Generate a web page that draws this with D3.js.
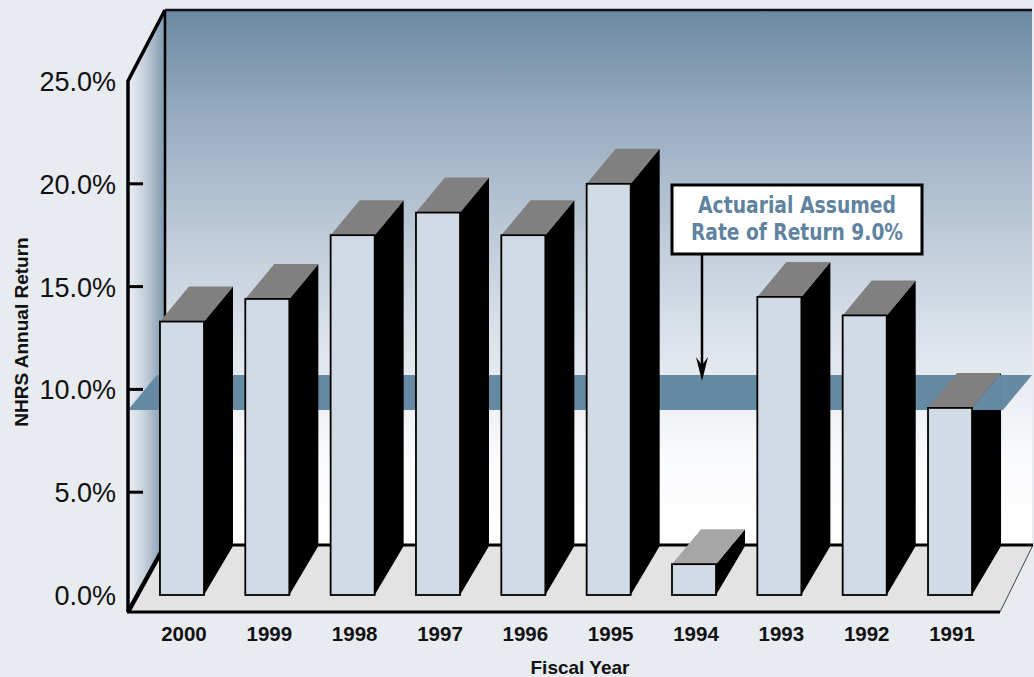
<!DOCTYPE html>
<html>
<head>
<meta charset="utf-8">
<script src="https://cdn.jsdelivr.net/npm/d3@7/dist/d3.min.js"></script>
<style>
  html, body { margin: 0; padding: 0; background: #e8ebf0; }
  svg { display: block; }
  text { font-family: "Liberation Sans", Arial, Helvetica, sans-serif; }
</style>
</head>
<body>
<div id="chart"></div>
<script>
// ---- data ----
const years = ["2000", "1999", "1998", "1997", "1996", "1995", "1994", "1993", "1992", "1991"];
const returns = [13.3, 14.4, 17.5, 18.6, 17.5, 20.0, 1.5, 14.5, 13.6, 9.1];
const yTicks = [0, 5, 10, 15, 20, 25];
const assumedRate = 9.0;
const calloutLines = ["Actuarial Assumed", "Rate of Return 9.0%"];
const xTitle = "Fiscal Year";
const yTitle = "NHRS Annual Return";

// ---- layout ----
const W = 1034, H = 677;
const wallLeft = 128, wallBack = 165, wallTop = 10, wallRight = 1032;
const floorFront = 612, floorBack = 545, floorFrontRight = 1000;
const dx = 29, dyTop = -35, dyBot = -49;

const svg = d3.select("#chart").append("svg").attr("width", W).attr("height", H);
svg.append("rect").attr("width", W).attr("height", H).attr("fill", "#e8ebf0");

const y = d3.scaleLinear().domain([0, 25]).range([595, 81]);
const x = d3.scaleBand().domain(years).range([139.3, 992.7]).paddingInner(0.484).paddingOuter(0.242);
const bw = x.bandwidth();

const defs = svg.append("defs");
const bg = defs.append("linearGradient").attr("id", "backGrad")
  .attr("gradientUnits", "userSpaceOnUse").attr("x1", 0).attr("y1", wallTop).attr("x2", 0).attr("y2", floorBack);
[[0, "#6b89a1"], [0.2, "#97acc1"], [0.45, "#c3cfdb"], [0.68, "#e5eaf0"], [0.84, "#fafbfd"], [1, "#ffffff"]]
  .forEach(([o, c]) => bg.append("stop").attr("offset", o).attr("stop-color", c));
const lg = defs.append("linearGradient").attr("id", "leftGrad")
  .attr("gradientUnits", "userSpaceOnUse").attr("x1", wallLeft).attr("y1", 0).attr("x2", wallBack).attr("y2", 0);
[[0, "#eef1f5"], [0.45, "#c4cfdb"], [1, "#7f97ae"]]
  .forEach(([o, c]) => lg.append("stop").attr("offset", o).attr("stop-color", c));

// back wall
svg.append("rect").attr("x", wallBack).attr("y", wallTop)
  .attr("width", wallRight - wallBack).attr("height", floorBack - wallTop).attr("fill", "url(#backGrad)");
// left wall
svg.append("polygon")
  .attr("points", [[wallLeft, y(25)], [wallBack, wallTop], [wallBack, floorBack], [wallLeft, floorFront]].join(" "))
  .attr("fill", "url(#leftGrad)");
// floor
svg.append("polygon")
  .attr("points", [[wallLeft, floorFront], [wallBack, floorBack], [wallRight + 1, floorBack], [floorFrontRight, floorFront]].join(" "))
  .attr("fill", "#e3e3e3").attr("stroke", "#444").attr("stroke-width", 1);
svg.append("line").attr("x1", wallBack).attr("x2", wallRight + 1).attr("y1", floorBack).attr("y2", floorBack)
  .attr("stroke", "#000").attr("stroke-width", 3);

// assumed-rate plane
const py = y(assumedRate);
const planePts = [[wallLeft, py], [wallLeft + dx, py + dyTop], [wallRight, py + dyTop], [wallRight - dx, py]].join(" ");
svg.append("polygon").attr("points", planePts).attr("fill", "#6689a4");

// frame lines
svg.append("line").attr("x1", wallBack).attr("x2", wallRight).attr("y1", wallTop).attr("y2", wallTop)
  .attr("stroke", "#111").attr("stroke-width", 2.5);
svg.append("line").attr("x1", wallBack).attr("x2", wallBack).attr("y1", wallTop).attr("y2", floorBack)
  .attr("stroke", "#000").attr("stroke-width", 2.5);
svg.append("path")
  .attr("d", `M${wallLeft},${floorFront} L${wallLeft},${y(25)} L${wallBack},${wallTop}`)
  .attr("fill", "none").attr("stroke", "#000").attr("stroke-width", 3.5).attr("stroke-linejoin", "miter");
svg.append("line").attr("x1", wallLeft).attr("y1", floorFront).attr("x2", wallBack).attr("y2", floorBack)
  .attr("stroke", "#000").attr("stroke-width", 4.5);
svg.append("line").attr("x1", wallLeft - 1).attr("y1", floorFront).attr("x2", floorFrontRight).attr("y2", floorFront)
  .attr("stroke", "#000").attr("stroke-width", 3);

// y ticks
svg.selectAll("line.tick").data(yTicks.filter(v => v > 0 && v < 25)).enter().append("line")
  .attr("class", "tick").attr("x1", wallLeft).attr("x2", wallLeft + 15)
  .attr("y1", d => y(d)).attr("y2", d => y(d)).attr("stroke", "#000").attr("stroke-width", 3);
svg.selectAll("text.ytl").data(yTicks).enter().append("text")
  .attr("class", "ytl").attr("x", 116).attr("y", d => y(d) + 10)
  .attr("text-anchor", "end").attr("font-size", 27).attr("fill", "#111")
  .text(d => d3.format(".1f")(d) + "%");

// bars
const data = years.map((yr, i) => ({ year: yr, value: returns[i] }));
const sidePts = d => {
  const x1 = x(d.year) + bw, yt = y(d.value), yb = y(0);
  return [[x1, yt], [x1 + dx, yt + dyTop], [x1 + dx, yb + dyBot], [x1, yb]].join(" ");
};
svg.selectAll("polygon.side").data(data).enter().append("polygon")
  .attr("class", "side").attr("fill", "#000").attr("points", sidePts);

// plane passes in front of the side faces of bars that barely reach it
const low = data.filter(d => d.value < assumedRate + 1);
const clip = defs.append("clipPath").attr("id", "lowSides");
clip.selectAll("polygon").data(low).enter().append("polygon").attr("points", sidePts);
svg.append("polygon").attr("points", planePts).attr("fill", "#6689a4").attr("clip-path", "url(#lowSides)");

svg.selectAll("polygon.top").data(data).enter().append("polygon")
  .attr("class", "top").attr("fill", d => d.value < 5 ? "#a6a6a6" : "#808080")
  .attr("points", d => {
    const x0 = x(d.year), x1 = x0 + bw, yt = y(d.value);
    return [[x0, yt], [x0 + dx, yt + dyTop], [x1 + dx, yt + dyTop], [x1, yt]].join(" ");
  });
svg.selectAll("rect.front").data(data).enter().append("rect")
  .attr("class", "front")
  .attr("x", d => x(d.year)).attr("y", d => y(d.value))
  .attr("width", bw).attr("height", d => y(0) - y(d.value))
  .attr("fill", "#d0dbe5").attr("stroke", "#000").attr("stroke-width", 1.8);

// x labels
svg.selectAll("text.xl").data(years).enter().append("text")
  .attr("class", "xl").attr("x", d => x(d) + bw / 2 + 2).attr("y", 641)
  .attr("text-anchor", "middle").attr("font-size", 20.5).attr("font-weight", "bold").attr("fill", "#111")
  .text(d => d);
svg.append("text").attr("x", 580).attr("y", 674).attr("text-anchor", "middle")
  .attr("font-size", 19).attr("font-weight", "bold").attr("fill", "#111").text(xTitle);
svg.append("text").attr("transform", "translate(28,332) rotate(-90)").attr("text-anchor", "middle")
  .attr("font-size", 19).attr("font-weight", "bold").attr("fill", "#111").text(yTitle);

// callout
const bx = 672, by = 185, bW = 250, bH = 69, ax = 702;
const tipY = py + dyTop + 6;
svg.append("line").attr("x1", ax).attr("x2", ax).attr("y1", by + bH).attr("y2", tipY - 14)
  .attr("stroke", "#000").attr("stroke-width", 2.5);
svg.append("path")
  .attr("d", `M${ax},${tipY} L${ax - 6},${tipY - 24} L${ax},${tipY - 16} L${ax + 6},${tipY - 24} Z`)
  .attr("fill", "#000");
svg.append("rect").attr("x", bx).attr("y", by).attr("width", bW).attr("height", bH)
  .attr("fill", "#fff").attr("stroke", "#000").attr("stroke-width", 3);
const lens = [198, 212];
svg.selectAll("text.call").data(calloutLines).enter().append("text")
  .attr("class", "call").attr("x", 797).attr("y", (d, i) => 213 + i * 27)
  .attr("text-anchor", "middle").attr("font-size", 23).attr("font-weight", "bold")
  .attr("fill", "#5f83a0")
  .style("font-family", "'Liberation Sans Narrow', 'DejaVu Sans Condensed', 'Arial Narrow', sans-serif")
  .attr("textLength", (d, i) => lens[i]).attr("lengthAdjust", "spacingAndGlyphs")
  .text(d => d);
</script>
</body>
</html>
